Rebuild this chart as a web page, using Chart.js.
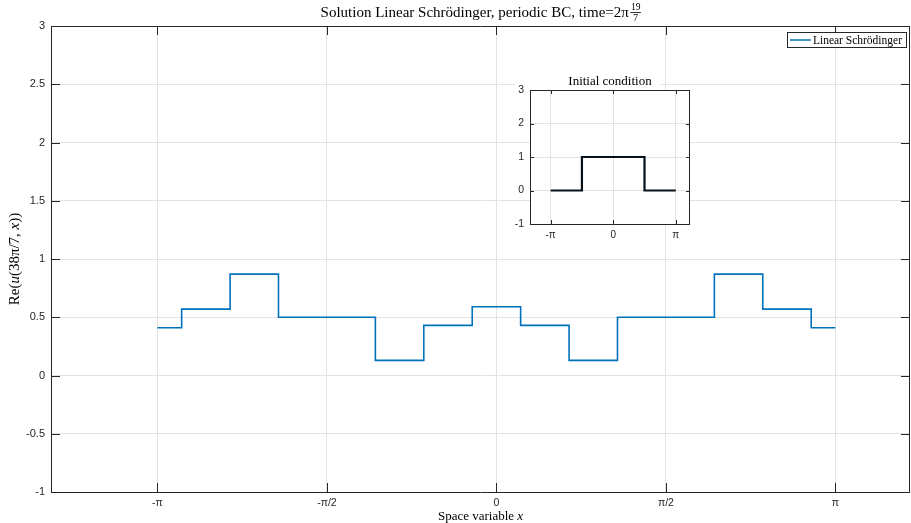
<!DOCTYPE html>
<html><head><meta charset="utf-8">
<script src="https://cdn.jsdelivr.net/npm/chart.js@4/dist/chart.umd.min.js"></script>
<style>
html,body{margin:0;padding:0;background:#fff;}
#wrap{position:relative;width:911px;height:523px;}
canvas{position:absolute;left:0;top:0;}
</style></head>
<body><div id="wrap"><canvas id="main" width="911" height="523"></canvas><canvas id="inset" width="911" height="523"></canvas></div>
<script>
// ---- data (x in units of pi) ----
const xBreaks = [-1, -0.9286, -0.7857, -0.6429, -0.3571, -0.2143, -0.0714, 0.0714, 0.2143, 0.3571, 0.6429, 0.7857, 0.9286, 1];
const solValues = [0.41, 0.57, 0.87, 0.50, 0.13, 0.43, 0.59, 0.43, 0.13, 0.50, 0.87, 0.57, 0.41, 0.41];
const initBreaks = [-1, -0.5, 0.5, 1];
const initValues = [0, 1, 0, 0];
const xTickValues = [-1, -0.5, 0, 0.5, 1];
const xTickLabels = ['-\u03c0', '-\u03c0/2', '0', '\u03c0/2', '\u03c0'];
const insetXTickValues = [-1, 0, 1];
const insetXTickLabels = ['-\u03c0', '0', '\u03c0'];
const seriesName = 'Linear Schr\u00f6dinger';
const titleText = 'Solution Linear Schr\u00f6dinger, periodic BC, time=2\u03c0';
const titleFracNum = '19', titleFracDen = '7';
const insetTitle = 'Initial condition';
const xLabel = 'Space variable ';
const xLabelVar = 'x';

const AX = '#262626', GRID = '#e3e3e3', BLUE = '#0072BD';
const SERIF = '"Liberation Serif", "DejaVu Serif", serif';
const SANS = '"Liberation Sans", Arial, Helvetica, sans-serif';

function pts(xs, ys){ return xs.map((x,i)=>({x:x, y:ys[i]})); }
function fmtNum(v){ return String(Math.round(v*10)/10); }

// box + inward ticks plugin
function boxPlugin(tickLen){
  return {
    id:'box'+tickLen,
    afterDraw(chart){
      const {ctx, chartArea:a, scales} = chart;
      ctx.save();
      ctx.strokeStyle = AX; ctx.lineWidth = 1;
      ctx.beginPath();
      ctx.rect(Math.round(a.left)+0.5, Math.round(a.top)+0.5, Math.round(a.right-a.left)-1, Math.round(a.bottom-a.top));
      ctx.stroke();
      ctx.beginPath();
      scales.x.ticks.forEach(t=>{
        const px = Math.round(scales.x.getPixelForValue(t.value))+0.5;
        ctx.moveTo(px, a.bottom); ctx.lineTo(px, a.bottom - tickLen);
        ctx.moveTo(px, a.top); ctx.lineTo(px, a.top + tickLen);
      });
      scales.y.ticks.forEach(t=>{
        const py = Math.round(scales.y.getPixelForValue(t.value))+0.5;
        ctx.moveTo(a.left, py); ctx.lineTo(a.left + tickLen, py);
        ctx.moveTo(a.right, py); ctx.lineTo(a.right - tickLen, py);
      });
      ctx.stroke();
      ctx.restore();
    }
  };
}

const mainText = {
  id:'mainText',
  afterDraw(chart){
    const {ctx, chartArea:a} = chart;
    ctx.save();
    ctx.fillStyle = '#000';
    // title
    const TF = '15px ' + SERIF, FF = '9.5px ' + SERIF;
    ctx.font = TF;
    const tw = ctx.measureText(titleText).width;
    ctx.font = FF;
    const fw = Math.max(ctx.measureText(titleFracNum).width, ctx.measureText(titleFracDen).width);
    const cx = (a.left + a.right)/2;
    const total = tw + 2 + fw;
    let x0 = cx - total/2;
    ctx.font = TF;
    ctx.textBaseline = 'alphabetic'; ctx.textAlign = 'left';
    ctx.fillText(titleText, x0, 17);
    const fx = x0 + tw + 2 + fw/2;
    ctx.font = FF; ctx.textAlign = 'center';
    ctx.fillText(titleFracNum, fx, 10);
    ctx.fillText(titleFracDen, fx, 21);
    ctx.fillRect(fx - fw/2 - 0.5, 12, fw + 1, 0.8);
    // x label
    const XF = '13px ' + SERIF, XFI = 'italic 13px ' + SERIF;
    ctx.font = XF;
    const w1 = ctx.measureText(xLabel).width;
    ctx.font = XFI;
    const w2 = ctx.measureText(xLabelVar).width;
    let lx = cx - (w1+w2)/2;
    ctx.textAlign = 'left'; ctx.textBaseline = 'alphabetic';
    ctx.font = XF; ctx.fillText(xLabel, lx, 520);
    ctx.font = XFI; ctx.fillText(xLabelVar, lx + w1, 520);
    // y label: Re(u(38π/7, x))
    const parts = [['Re(', ''], ['u', 'italic '], ['(38\u03c0/7, ', ''], ['x', 'italic '], ['))', '']];
    const YS = '15px ' + SERIF;
    let widths = parts.map(p=>{ ctx.font = p[1] + YS; return ctx.measureText(p[0]).width; });
    const tot = widths.reduce((s,v)=>s+v,0);
    const cy = (a.top + a.bottom)/2;
    ctx.translate(19, cy); ctx.rotate(-Math.PI/2);
    let px = -tot/2;
    parts.forEach((p,i)=>{ ctx.font = p[1] + YS; ctx.fillText(p[0], px, 0); px += widths[i]; });
    ctx.restore();
    // legend
    ctx.save();
    ctx.font = '11.5px ' + SERIF;
    const lw = ctx.measureText(seriesName).width;
    const bx1 = a.right - 4, bx0 = bx1 - (lw + 30), by0 = 32, by1 = 47;
    ctx.fillStyle = '#fff';
    ctx.fillRect(bx0, by0, bx1-bx0, by1-by0);
    ctx.strokeStyle = AX; ctx.lineWidth = 1;
    ctx.strokeRect(Math.round(bx0)+0.5, by0+0.5, Math.round(bx1-bx0), by1-by0);
    ctx.strokeStyle = BLUE; ctx.lineWidth = 1.5;
    ctx.beginPath(); ctx.moveTo(bx0+3, 40); ctx.lineTo(bx0+24, 40); ctx.stroke();
    ctx.fillStyle = '#000'; ctx.textBaseline = 'middle'; ctx.textAlign = 'left';
    ctx.fillText(seriesName, bx0 + 26, 40.5);
    ctx.restore();
  }
};

new Chart(document.getElementById('main'), {
  type:'line',
  data:{ datasets:[{ label:seriesName, data:pts(xBreaks, solValues), stepped:true, borderColor:BLUE, borderWidth:1.6, pointRadius:0, fill:false }]},
  options:{
    responsive:false, animation:false, devicePixelRatio:1,
    layout:{ padding:{ top:26, right:1, left:0, bottom:0 } },
    plugins:{ legend:{display:false}, title:{display:false}, tooltip:{enabled:false} },
    scales:{
      x:{ type:'linear', min:-1.314, max:1.22,
        afterFit(s){ s.height = 31; },
        afterBuildTicks(s){ s.ticks = xTickValues.map(v=>({value:v})); },
        ticks:{ autoSkip:false, maxRotation:0, padding:5, color:AX, font:{family:SANS, size:10.5},
          callback:(v)=>{ const i = xTickValues.indexOf(v); return i>=0 ? xTickLabels[i] : ''; } },
        grid:{ color:GRID, drawTicks:false, tickLength:0 },
        border:{ display:false }
      },
      y:{ type:'linear', min:-1, max:3,
        afterFit(s){ s.width = 51; },
        ticks:{ stepSize:0.5, padding:6, color:AX, font:{family:SANS, size:11}, callback:(v)=>fmtNum(v) },
        grid:{ color:GRID, drawTicks:false, tickLength:0 },
        border:{ display:false }
      }
    }
  },
  plugins:[boxPlugin(9), mainText]
});

const insetBg = {
  id:'insetBg',
  beforeDraw(chart){
    const {ctx, chartArea:a} = chart;
    ctx.save(); ctx.fillStyle = '#fff';
    ctx.fillRect(a.left, a.top, a.right-a.left, a.bottom-a.top);
    ctx.fillRect(515, 73, 145, a.top-73);
    ctx.restore();
  },
  afterDraw(chart){
    const {ctx, chartArea:a} = chart;
    ctx.save(); ctx.fillStyle = '#000';
    ctx.font = '13px ' + SERIF; ctx.textAlign = 'center'; ctx.textBaseline = 'alphabetic';
    ctx.fillText(insetTitle, (a.left+a.right)/2, 85);
    ctx.restore();
  }
};

new Chart(document.getElementById('inset'), {
  type:'line',
  data:{ datasets:[{ label:'init', data:pts(initBreaks, initValues), stepped:true, borderColor:'#05121c', borderWidth:2.2, pointRadius:0, fill:false }]},
  options:{
    responsive:false, animation:false, devicePixelRatio:1,
    layout:{ padding:{ top:90, right:221, left:511, bottom:279 } },
    plugins:{ legend:{display:false}, title:{display:false}, tooltip:{enabled:false} },
    scales:{
      x:{ type:'linear', min:-1.33, max:1.227,
        afterFit(s){ s.height = 20; },
        afterBuildTicks(s){ s.ticks = insetXTickValues.map(v=>({value:v})); },
        ticks:{ autoSkip:false, maxRotation:0, padding:5, color:AX, font:{family:SANS, size:10},
          callback:(v)=>{ const i = insetXTickValues.indexOf(v); return i>=0 ? insetXTickLabels[i] : ''; } },
        grid:{ color:GRID, drawTicks:false, tickLength:0 },
        border:{ display:false }
      },
      y:{ type:'linear', min:-1, max:3,
        afterFit(s){ s.width = 19; },
        ticks:{ stepSize:1, padding:6, color:AX, font:{family:SANS, size:10.5}, callback:(v)=>fmtNum(v) },
        grid:{ color:GRID, drawTicks:false, tickLength:0 },
        border:{ display:false }
      }
    }
  },
  plugins:[boxPlugin(4), insetBg]
});
</script>
</body></html>
